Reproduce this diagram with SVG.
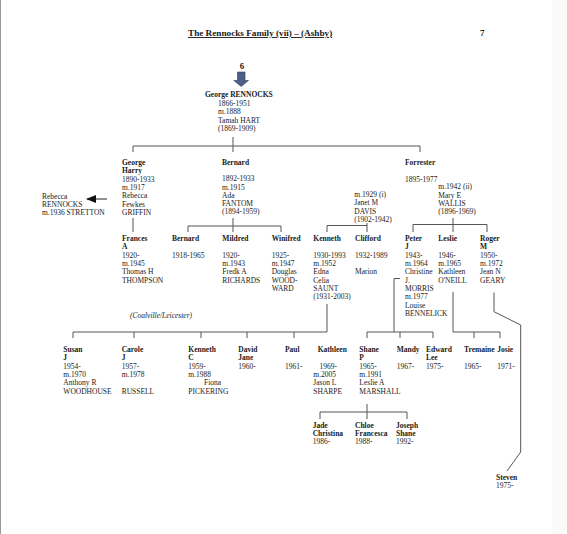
<svg xmlns="http://www.w3.org/2000/svg" width="567" height="534" viewBox="0 0 567 534">
<style>
text{font-family:"Liberation Serif","Times New Roman",serif;font-size:7.5px;fill:#1a1a1a}
.b{font-weight:bold}
.t{font-size:9.2px;font-weight:bold;text-decoration:underline}
.n{font-size:9px;font-weight:bold}
.i{font-style:italic}
.c line,.c polyline{stroke:#555;stroke-width:1;fill:none}
</style>
<defs>
<marker id="ah" viewBox="0 0 10 8" refX="9" refY="4" markerWidth="10" markerHeight="8" markerUnits="userSpaceOnUse" orient="auto">
<path d="M0,0 L10,4 L0,8 Z" fill="#111"/>
</marker>
</defs>
<rect width="567" height="534" fill="#fff"/>
<rect x="552" y="0" width="15" height="534" fill="#fafafa"/>
<line x1="0.5" y1="0" x2="0.5" y2="534" stroke="#999" stroke-width="1"/>

<g id="title">
<text class="t" x="188" y="36">The Rennocks Family (vii) – (Ashby)</text>
<text class="n" x="480" y="36">7</text>
</g>

<g id="from-page-6">
<text class="n" x="242" y="68.5" text-anchor="middle">6</text>
<polygon points="237.5,72 245,72 245,80.5 248.5,80.5 241.2,86.5 233.8,80.5 237.5,80.5" fill="#4d5f86" stroke="#2c3a5a" stroke-width="0.6"/>
</g>

<g class="c" id="connectors">
<line x1="233" y1="137" x2="233" y2="152"/>
<line x1="133" y1="146" x2="420" y2="146"/>
<line x1="133" y1="146" x2="133" y2="152"/>
<line x1="420" y1="146" x2="420" y2="152"/>
<line x1="107" y1="199" x2="87" y2="199" marker-end="url(#ah)" style="stroke:#222"/>
<line x1="133" y1="218" x2="133" y2="232"/>
<line x1="233" y1="218" x2="233" y2="232"/>
<line x1="188" y1="226" x2="281" y2="226"/>
<line x1="188" y1="226" x2="188" y2="232"/>
<line x1="281" y1="226" x2="281" y2="232"/>
<line x1="367" y1="223" x2="367" y2="232"/>
<line x1="327" y1="225.5" x2="367" y2="225.5"/>
<line x1="327" y1="225.5" x2="327" y2="232"/>
<line x1="453" y1="218" x2="453" y2="232"/>
<line x1="413" y1="224.5" x2="487" y2="224.5"/>
<line x1="413" y1="224.5" x2="413" y2="232"/>
<line x1="487" y1="224.5" x2="487" y2="232"/>
<line x1="327" y1="304" x2="327" y2="332"/>
<line x1="73" y1="332" x2="327" y2="332"/>
<line x1="73" y1="332" x2="73" y2="338"/>
<line x1="134" y1="332" x2="134" y2="338"/>
<line x1="201" y1="332" x2="201" y2="338"/>
<line x1="247" y1="332" x2="247" y2="338"/>
<line x1="294" y1="332" x2="294" y2="338"/>
<polyline points="400,278.5 394,278.5 394,332"/>
<line x1="367" y1="332" x2="433" y2="332"/>
<line x1="367" y1="332" x2="367" y2="338"/>
<line x1="400" y1="332" x2="400" y2="338"/>
<line x1="433" y1="332" x2="433" y2="338"/>
<line x1="453" y1="292" x2="453" y2="332"/>
<line x1="453" y1="332" x2="500" y2="332"/>
<line x1="474" y1="332" x2="474" y2="338"/>
<line x1="500" y1="332" x2="500" y2="338"/>
<polyline points="494,292.5 494,311.7 520.7,325 520.7,452 507,471"/>
<line x1="367" y1="404" x2="367" y2="419"/>
<line x1="320" y1="412" x2="407" y2="412"/>
<line x1="320" y1="412" x2="320" y2="419"/>
<line x1="407" y1="412" x2="407" y2="419"/>
</g>

<g id="george-rennocks">
<text x="205" y="97"><tspan class="b">George RENNOCKS</tspan><tspan x="218" y="106">1866-1951</tspan><tspan x="218" y="114.3">m.1888</tspan><tspan x="218" y="122.6">Tamah HART</tspan><tspan x="218" y="131">(1869-1909)</tspan></text>
</g>

<g id="rebecca">
<text x="42" y="198.5">Rebecca<tspan x="42" y="206.8">RENNOCKS</tspan><tspan x="42" y="215.1">m.1936 STRETTON</tspan></text>
</g>

<g id="george-harry">
<text x="122" y="165"><tspan class="b">George</tspan><tspan class="b" x="122" y="173.3">Harry</tspan><tspan x="122" y="181.7">1890-1933</tspan><tspan x="122" y="190">m.1917</tspan><tspan x="122" y="198.3">Rebecca</tspan><tspan x="122" y="206.7">Fewkes</tspan><tspan x="122" y="215">GRIFFIN</tspan></text>
</g>

<g id="bernard-sr">
<text x="222" y="164.5"><tspan class="b">Bernard</tspan><tspan x="222" y="181.2">1892-1933</tspan><tspan x="222" y="189.5">m.1915</tspan><tspan x="222" y="197.8">Ada</tspan><tspan x="222" y="206.1">FANTOM</tspan><tspan x="222" y="214.4">(1894-1959)</tspan></text>
</g>

<g id="janet-davis">
<text x="354.3" y="197">m.1929 (i)<tspan x="354.3" y="205.4">Janet M</tspan><tspan x="354.3" y="213.7">DAVIS</tspan><tspan x="354.3" y="222">(1902-1942)</tspan></text>
</g>

<g id="forrester">
<text x="405" y="165"><tspan class="b">Forrester</tspan><tspan x="405" y="181.7">1895-1977</tspan></text>
</g>

<g id="mary-wallis">
<text x="438.3" y="189.4">m.1942 (ii)<tspan x="438.3" y="197.7">Mary E</tspan><tspan x="438.3" y="206">WALLIS</tspan><tspan x="438.3" y="214.3">(1896-1969)</tspan></text>
</g>

<g id="frances">
<text x="122" y="241"><tspan class="b">Frances</tspan><tspan class="b" x="122" y="249.3">A</tspan><tspan x="122" y="257.7">1920-</tspan><tspan x="122" y="266">m.1945</tspan><tspan x="122" y="274.3">Thomas H</tspan><tspan x="122" y="282.7">THOMPSON</tspan></text>
</g>

<g id="bernard-jr">
<text x="172" y="241"><tspan class="b">Bernard</tspan><tspan x="172" y="257.7">1918-1965</tspan></text>
</g>

<g id="mildred">
<text x="222.3" y="241"><tspan class="b">Mildred</tspan><tspan x="222.3" y="257.7">1920-</tspan><tspan x="222.3" y="266">m.1943</tspan><tspan x="222.3" y="274.3">Fredk A</tspan><tspan x="222.3" y="282.7">RICHARDS</tspan></text>
</g>

<g id="winifred">
<text x="271.7" y="241"><tspan class="b">Winifred</tspan><tspan x="271.7" y="257.7">1925-</tspan><tspan x="271.7" y="266">m.1947</tspan><tspan x="271.7" y="274.3">Douglas</tspan><tspan x="271.7" y="282.7">WOOD-</tspan><tspan x="271.7" y="291">WARD</tspan></text>
</g>

<g id="kenneth">
<text x="313.3" y="241"><tspan class="b">Kenneth</tspan><tspan x="313.3" y="257.7">1930-1993</tspan><tspan x="313.3" y="266">m.1952</tspan><tspan x="313.3" y="274.3">Edna</tspan><tspan x="313.3" y="282.7">Celia</tspan><tspan x="313.3" y="291">SAUNT</tspan><tspan x="313.3" y="299.3">(1931-2003)</tspan></text>
</g>

<g id="clifford">
<text x="355" y="241"><tspan class="b">Clifford</tspan><tspan x="355" y="257.7">1932-1989</tspan><tspan x="355" y="274.3">Marion</tspan></text>
</g>

<g id="peter">
<text x="405" y="241"><tspan class="b">Peter</tspan><tspan class="b" x="405" y="249.3">J</tspan><tspan x="405" y="257.7">1943-</tspan><tspan x="405" y="266">m.1964</tspan><tspan x="405" y="274.3">Christine</tspan><tspan x="405" y="282.7">J.</tspan><tspan x="405" y="291">MORRIS</tspan><tspan x="405" y="299.3">m.1977</tspan><tspan x="405" y="307.7">Louise</tspan><tspan x="405" y="316">BENNELICK</tspan></text>
</g>

<g id="leslie">
<text x="438.3" y="241"><tspan class="b">Leslie</tspan><tspan x="438.3" y="257.7">1946-</tspan><tspan x="438.3" y="266">m.1965</tspan><tspan x="438.3" y="274.3">Kathleen</tspan><tspan x="438.3" y="282.7">O'NEILL</tspan></text>
</g>

<g id="roger">
<text x="480" y="241"><tspan class="b">Roger</tspan><tspan class="b" x="480" y="249.3">M</tspan><tspan x="480" y="257.7">1950-</tspan><tspan x="480" y="266">m.1972</tspan><tspan x="480" y="274.3">Jean N</tspan><tspan x="480" y="282.7">GEARY</tspan></text>
</g>

<g id="coalville-note">
<text class="i" x="130" y="318">(Coalville/Leicester)</text>
</g>

<g id="susan">
<text x="63.3" y="352"><tspan class="b">Susan</tspan><tspan class="b" x="63.3" y="360.3">J</tspan><tspan x="63.3" y="368.7">1954-</tspan><tspan x="63.3" y="377">m.1970</tspan><tspan x="63.3" y="385.3">Anthony R</tspan><tspan x="63.3" y="393.7">WOODHOUSE</tspan></text>
</g>

<g id="carole">
<text x="121.7" y="352"><tspan class="b">Carole</tspan><tspan class="b" x="121.7" y="360.3">J</tspan><tspan x="121.7" y="368.7">1957-</tspan><tspan x="121.7" y="377">m.1978</tspan><tspan x="121.7" y="393.7">RUSSELL</tspan></text>
</g>

<g id="kenneth-c">
<text x="188.3" y="352"><tspan class="b">Kenneth</tspan><tspan class="b" x="188.3" y="360.3">C</tspan><tspan x="188.3" y="368.7">1959-</tspan><tspan x="188.3" y="377">m.1988</tspan><tspan x="204" y="385.3">Fiona</tspan><tspan x="188.3" y="393.7">PICKERING</tspan></text>
</g>

<g id="david-jane">
<text x="238.3" y="352"><tspan class="b">David</tspan><tspan class="b" x="238.3" y="360.3">Jane</tspan><tspan x="238.3" y="368.7">1960-</tspan></text>
</g>

<g id="paul">
<text x="285" y="352"><tspan class="b">Paul</tspan><tspan x="285" y="368.7">1961-</tspan></text>
</g>

<g id="kathleen">
<text x="317.7" y="352"><tspan class="b">Kathleen</tspan><tspan x="319.5" y="368.7">1969-</tspan><tspan x="313.3" y="377">m.2005</tspan><tspan x="313.3" y="385.3">Jason L</tspan><tspan x="313.3" y="393.7">SHARPE</tspan></text>
</g>

<g id="shane">
<text x="359.3" y="352"><tspan class="b">Shane</tspan><tspan class="b" x="359.3" y="360.3">P</tspan><tspan x="359.3" y="368.7">1965-</tspan><tspan x="359.3" y="377">m.1991</tspan><tspan x="359.3" y="385.3">Leslie A</tspan><tspan x="359.3" y="393.7">MARSHALL</tspan></text>
</g>

<g id="mandy">
<text x="396.7" y="352"><tspan class="b">Mandy</tspan><tspan x="396.7" y="368.7">1967-</tspan></text>
</g>

<g id="edward-lee">
<text x="426" y="352"><tspan class="b">Edward</tspan><tspan class="b" x="426" y="360.3">Lee</tspan><tspan x="426" y="368.7">1975-</tspan></text>
</g>

<g id="tremaine">
<text x="464" y="352"><tspan class="b">Tremaine</tspan><tspan x="464" y="368.7">1965-</tspan></text>
</g>

<g id="josie">
<text x="497.3" y="352"><tspan class="b">Josie</tspan><tspan x="497.3" y="368.7">1971-</tspan></text>
</g>

<g id="jade">
<text x="312.7" y="427.7"><tspan class="b">Jade</tspan><tspan class="b" x="312.7" y="436">Christina</tspan><tspan x="312.7" y="444.3">1986-</tspan></text>
</g>

<g id="chloe">
<text x="355" y="427.7"><tspan class="b">Chloe</tspan><tspan class="b" x="355" y="436">Francesca</tspan><tspan x="355" y="444.3">1988-</tspan></text>
</g>

<g id="joseph">
<text x="396" y="427.7"><tspan class="b">Joseph</tspan><tspan class="b" x="396" y="436">Shane</tspan><tspan x="396" y="444.3">1992-</tspan></text>
</g>

<g id="steven">
<text x="496" y="480"><tspan class="b">Steven</tspan><tspan x="496" y="488.3">1975-</tspan></text>
</g>
</svg>
